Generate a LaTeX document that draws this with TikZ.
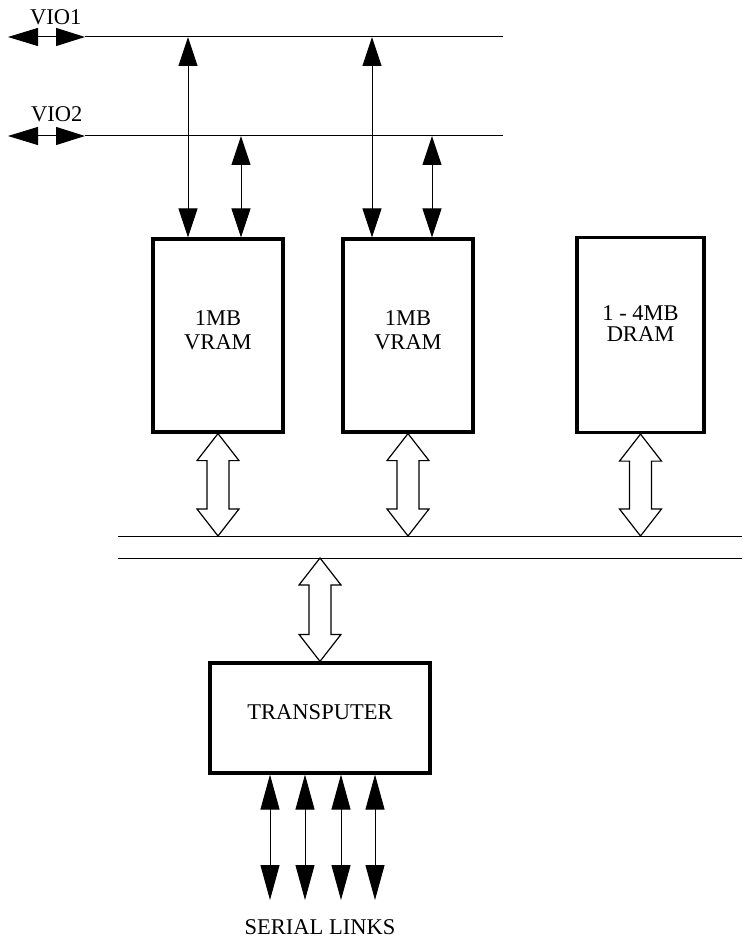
\documentclass[tikz,border=0pt]{standalone}
\usepackage{fontspec}
\setmainfont{Liberation Serif}
\usetikzlibrary{arrows.meta,calc}
\begin{document}
\begin{tikzpicture}[x=1pt,y=-1pt,
  thin line/.style={line width=1pt},
  dblarrow/.style={line width=1pt,{Triangle[length=29pt,width=19pt]}-{Triangle[length=29pt,width=19pt]}},
  serarrow/.style={line width=1pt,{Triangle[length=35pt,width=19pt]}-{Triangle[length=35pt,width=19pt]}},
  vioarrow/.style={line width=1pt,{Triangle[length=30pt,width=18pt]}-{Triangle[length=29pt,width=18pt]}},
  membox/.style={draw,line width=3.2pt,inner sep=0pt},
  lbl/.style={font=\fontsize{22.5}{24}\selectfont,align=center,inner sep=0pt},
  hollow/.style={draw,line width=1.2pt,fill=white}]
\useasboundingbox (0,0) rectangle (742,941);

% buses (VIO)
\coordinate (vio1L) at (8,37);
\coordinate (vio1M) at (85,37);
\coordinate (vio1R) at (503,37);
\coordinate (vio2L) at (8,136);
\coordinate (vio2M) at (85,136);
\coordinate (vio2R) at (503,136);
\draw[vioarrow] (vio1L) -- (vio1M);
\draw[thin line] (vio1M) -- (vio1R);
\draw[vioarrow] (vio2L) -- (vio2M);
\draw[thin line] (vio2M) -- (vio2R);
\node[lbl,anchor=west] (vio1t) at (30,17) {VIO1};
\node[lbl,anchor=west] (vio2t) at (31,114) {VIO2};

% memory boxes
\node[membox,minimum width=130pt,minimum height=193pt] (v1) at (218,335.5) {};
\node[membox,minimum width=130pt,minimum height=193pt] (v2) at (408,335.5) {};
\node[membox,minimum width=127pt,minimum height=195pt] (d) at (640.5,335) {};
\node[lbl] (v1t) at (218,330) {1MB\\VRAM};
\node[lbl] (v2t) at (408,330) {1MB\\VRAM};
\node[lbl,font=\fontsize{22.5}{21}\selectfont] (dt) at (640.5,324) {1 - 4MB\\DRAM};

% vertical data arrows
\coordinate (a1t) at (188,37);
\coordinate (a2t) at (241,136);
\coordinate (a3t) at (372,37);
\coordinate (a4t) at (432,136);
\draw[dblarrow] (a1t) -- (a1t |- v1.north);
\draw[dblarrow] (a2t) -- (a2t |- v1.north);
\draw[dblarrow] (a3t) -- (a3t |- v2.north);
\draw[dblarrow] (a4t) -- (a4t |- v2.north);

% main bus
\coordinate (b1L) at (118,536);
\coordinate (b1R) at (742,536);
\coordinate (b2L) at (118,558);
\coordinate (b2R) at (742,558);
\draw[thin line] (b1L) -- (b1R);
\draw[thin line] (b2L) -- (b2R);

% transputer
\node[membox,minimum width=220pt,minimum height=110pt] (tp) at (320,718) {};
\node[lbl] (tpt) at (320,712) {TRANSPUTER};

% hollow double arrows
\newcommand\hollowarrow[2]{%
  \path let \p1=(#1), \p2=(#2) in
    [hollow] (\x1,\y1) -- (\x1+21pt,\y1-27pt) -- (\x1+11pt,\y1-27pt)
    -- (\x1+11pt,\y2+27pt) -- (\x1+21pt,\y2+27pt) -- (\x1,\y2)
    -- (\x1-21pt,\y2+27pt) -- (\x1-11pt,\y2+27pt) -- (\x1-11pt,\y1-27pt)
    -- (\x1-21pt,\y1-27pt) -- cycle;}
\hollowarrow{v1.south}{v1.south |- b1L}
\hollowarrow{v2.south}{v2.south |- b1L}
\hollowarrow{d.south}{d.south |- b1L}
\hollowarrow{tp.north |- b2L}{tp.north}

% serial links
\coordinate (s1) at (270,900);
\coordinate (s2) at (305,900);
\coordinate (s3) at (341,900);
\coordinate (s4) at (375,900);
\draw[serarrow] (s1 |- tp.south) -- (s1);
\draw[serarrow] (s2 |- tp.south) -- (s2);
\draw[serarrow] (s3 |- tp.south) -- (s3);
\draw[serarrow] (s4 |- tp.south) -- (s4);
\node[lbl] (sl) at (320,927) {SERIAL LINKS};
\end{tikzpicture}
\end{document}
